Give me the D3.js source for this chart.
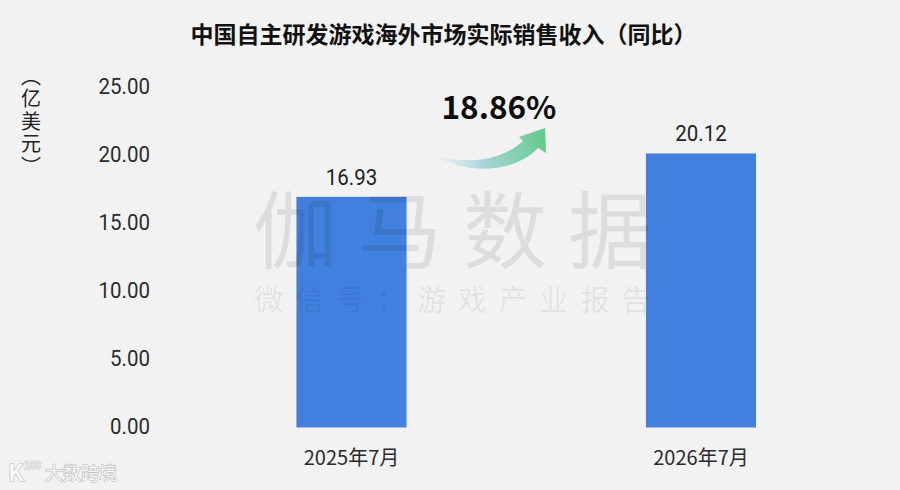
<!DOCTYPE html>
<html>
<head>
<meta charset="utf-8">
<script src="https://cdn.jsdelivr.net/npm/d3@7"></script>
<style>
  html, body { margin: 0; padding: 0; background: #f2f2f2; overflow: hidden; }
  svg { display: block; }
  text { font-family: "Noto Sans CJK SC", "Noto Sans", sans-serif; }
  .num { font-family: Roboto, "Noto Sans", sans-serif; }
</style>
</head>
<body>
<svg></svg>
<script>
var categories = ["2025年7月", "2026年7月"];
var revenue = [16.93, 20.12];
var yTicks = [0, 5, 10, 15, 20, 25];
var chartTitle = "中国自主研发游戏海外市场实际销售收入（同比）";
var growthLabel = "18.86%";
var unitLabel = "（亿美元）";

var svgWidth = 900;
var svgHeight = 490;
var svg = d3.select("svg")
  .attr("width", svgWidth)
  .attr("height", svgHeight);

var x = d3.scaleBand()
  .domain(categories)
  .range([176.75, 875.75])
  .paddingInner(0.685)
  .paddingOuter(0.3425);

var y = d3.scaleLinear()
  .domain([0, 25])
  .range([427.5, 87]);

// the numbers in the picture are a bit narrower than Roboto
function squeeze(sel) {
  sel.attr("lengthAdjust", "spacingAndGlyphs")
    .attr("textLength", function() { return this.getComputedTextLength() * 0.93; });
}

// title
svg.append("text")
  .attr("x", 443.5)
  .attr("y", 43)
  .attr("text-anchor", "middle")
  .attr("font-size", 23)
  .attr("font-weight", 700)
  .attr("fill", "#111")
  .text(chartTitle);

// unit label, written top to bottom
svg.append("text")
  .attr("x", 31)
  .attr("y", 66)
  .attr("font-size", 20)
  .attr("letter-spacing", "2.5px")
  .attr("fill", "#222")
  .style("writing-mode", "vertical-rl")
  .text(unitLabel);

// y axis
var yAxis = d3.axisLeft(y)
  .tickValues(yTicks)
  .tickSize(0)
  .tickPadding(0)
  .tickFormat(d3.format(".2f"));

var yG = svg.append("g")
  .attr("transform", "translate(150,-1)")
  .call(yAxis);
yG.select(".domain").remove();
yG.selectAll("text")
  .attr("class", "num")
  .attr("font-size", 22)
  .attr("fill", "#2b2b2b")
  .attr("dy", "0.32em")
  .call(squeeze);

// x axis
var xAxis = d3.axisBottom(x).tickSize(0).tickPadding(0);
var xG = svg.append("g")
  .attr("transform", "translate(0,451)")
  .call(xAxis);
xG.select(".domain").remove();
xG.selectAll("text")
  .attr("font-size", 20)
  .attr("fill", "#2b2b2b")
  .attr("dy", "0.71em");

// bars
svg.append("g").selectAll("rect")
  .data(revenue)
  .enter()
  .append("rect")
  .attr("x", function(d, i) { return x(categories[i]); })
  .attr("y", function(d) { return y(d); })
  .attr("width", x.bandwidth())
  .attr("height", function(d) { return y(0) - y(d); })
  .attr("fill", "#4180de");

// value labels
svg.append("g").selectAll("text")
  .data(revenue)
  .enter()
  .append("text")
  .attr("class", "num")
  .attr("x", function(d, i) { return x(categories[i]) + x.bandwidth() / 2; })
  .attr("y", function(d) { return y(d) - 12; })
  .attr("text-anchor", "middle")
  .attr("font-size", 22)
  .attr("fill", "#222")
  .text(function(d) { return d.toFixed(2); })
  .call(squeeze);

// growth arrow
var defs = svg.append("defs");
var grad = defs.append("linearGradient")
  .attr("id", "arrowGrad")
  .attr("gradientUnits", "userSpaceOnUse")
  .attr("x1", 436).attr("y1", 160)
  .attr("x2", 546).attr("y2", 135);
grad.append("stop").attr("offset", "0").attr("stop-color", "#dce9f1").attr("stop-opacity", 0.4);
grad.append("stop").attr("offset", "0.4").attr("stop-color", "#a9d5d8");
grad.append("stop").attr("offset", "1").attr("stop-color", "#62c98a");

svg.append("path")
  .attr("d", "M436,156 C465,164 500,162 523,141 L519,137 L545,128 L546,153 L538,148 C515,172 470,176 436,156 Z")
  .attr("fill", "url(#arrowGrad)");

svg.append("text")
  .attr("x", 499)
  .attr("y", 119)
  .attr("text-anchor", "middle")
  .attr("font-size", 31.5)
  .attr("font-weight", 700)
  .attr("fill", "#0d0d0d")
  .text(growthLabel);

// watermark
svg.append("text")
  .attr("x", 463)
  .attr("y", 262)
  .attr("text-anchor", "middle")
  .attr("font-size", 84)
  .attr("letter-spacing", "21px")
  .attr("fill", "#000")
  .attr("fill-opacity", 0.085)
  .text("伽马数据");

svg.append("text")
  .attr("x", 458)
  .attr("y", 311)
  .attr("text-anchor", "middle")
  .attr("font-size", 29)
  .attr("letter-spacing", "11.8px")
  .attr("fill", "#000")
  .attr("fill-opacity", 0.07)
  .text("微信号：游戏产业报告");

// source mark bottom left
function sourceMark(sel) {
  sel.attr("fill", "#f7f7f7")
    .attr("stroke", "#bdbdbd")
    .attr("stroke-width", 1.2)
    .style("paint-order", "stroke");
}
svg.append("text")
  .attr("x", 8)
  .attr("y", 481)
  .attr("font-size", 23)
  .attr("font-weight", 700)
  .text("K")
  .call(sourceMark);
svg.append("text")
  .attr("x", 24)
  .attr("y", 469)
  .attr("font-size", 10)
  .text("100")
  .call(sourceMark);
svg.append("text")
  .attr("x", 45)
  .attr("y", 480)
  .attr("font-size", 18)
  .text("大数跨境")
  .call(sourceMark);
</script>
</body>
</html>
